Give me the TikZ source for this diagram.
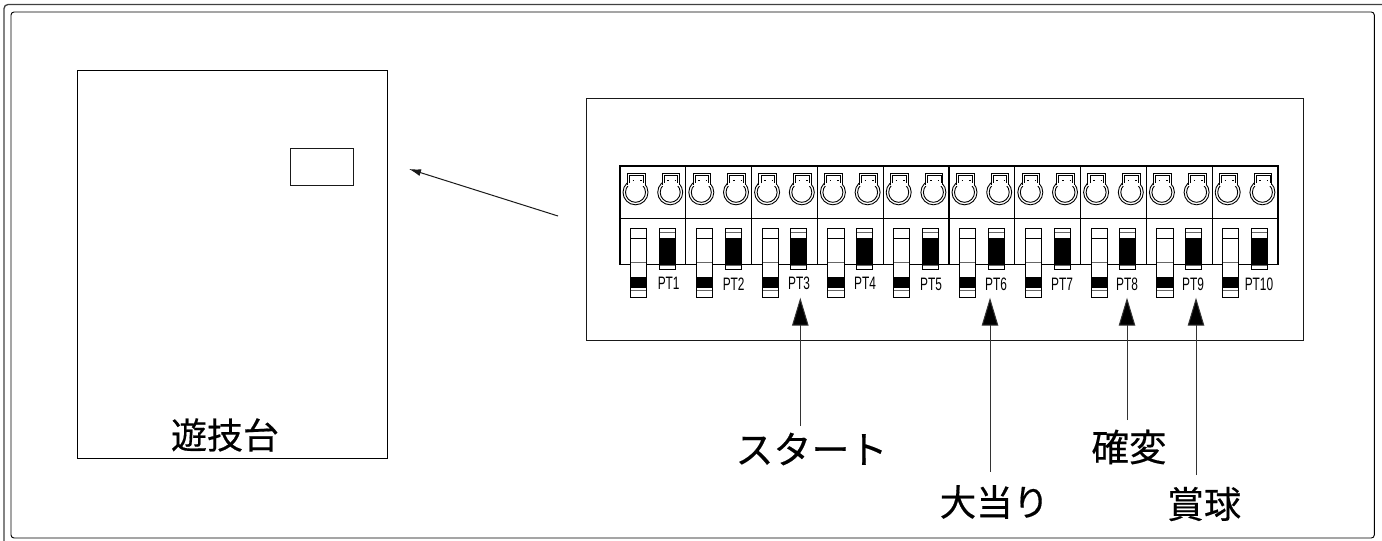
\documentclass[tikz,border=0pt]{standalone}
\usepackage{fontspec}
\usepackage{graphicx}
\setmainfont{Liberation Sans}
\newfontfamily\jpfont[BoldFont={Noto Sans CJK JP},BoldFeatures={FakeBold=0.4}]{Noto Sans CJK JP}
\usetikzlibrary{arrows.meta}
\tikzset{
  ln/.style={draw=black,line width=0.95pt},
  thick line/.style={draw=black,line width=1.1pt},
  grayln/.style={draw=black!60,line width=1.2pt},
  thinln/.style={draw=black!90,line width=1pt},
  blk/.style={fill=black,draw=none},
  bigarrow/.style={draw=black!80,line width=1pt,-{Triangle[length=28pt,width=16.5pt,fill=black]}},
  ptlabel/.style={inner sep=0pt,text=black},
  jplabel/.style={inner sep=0pt,font=\jpfont\bfseries},
}
\newcommand{\ptl}[1]{\scalebox{0.66}[1]{\fontsize{18}{18}\selectfont #1}}
\newcommand{\jps}[1]{\fontsize{#1}{#1}\selectfont}
\begin{document}
\begin{tikzpicture}[x=1pt,y=-1pt]
\useasboundingbox (0,0) rectangle (1382,541);
\begin{scope}
\clip (0,0) rectangle (1382,541);
\draw[draw=black!75,line width=1.3pt,rounded corners=4pt] (4,4.5) rectangle (1386,548);
\draw[ln,rounded corners=3pt] (11,12) rectangle (1374.3,538);
\end{scope}
% game machine
\draw[ln] (77.5,70.5) rectangle (387.5,458.5);
\draw[thinln] (290.5,148.5) rectangle (353.5,185.5);
\node[jplabel] (machine) at (225,435) {\jps{36}遊技台};
% panel
\draw[thinln] (586.5,98.5) rectangle (1303.5,340.5);
\coordinate (zoomstart) at (558,216);
\coordinate (zoomend) at (409,169);
\draw[thinln,-{Latex[length=12pt,width=7pt]}] (zoomstart) -- (zoomend);
% terminal block
\foreach \i in {0,...,9}{
  \begin{scope}[shift={({\i*65.8},0)}]
    \draw[thick line] (620,166) rectangle (685.8,264.5);
    \draw[thick line] (620,218.5) -- (685.8,218.5);
    \foreach \dx in {0,34.7}{
      \begin{scope}[shift={(\dx,0)}]
        \draw[line width=.9pt] (635.5,192.3) circle (12.5);
        \draw[line width=.9pt] (635.5,192.3) circle (10);
        \fill[white] (627.3,173) rectangle (645,185.5);
        \draw[line width=1pt] (627.3,185) -- (627.3,173.3) -- (645,173.3) -- (645,185);
        \draw[line width=.7pt] (629.3,183) -- (629.3,175.6) -- (643,175.6) -- (643,183);
        \draw[line width=.6pt] (632.5,180) -- (634,180) (640,180) -- (641.5,180);
      \end{scope}
    }
    % left switch
    \fill[white] (630.5,228.3) rectangle (646.7,297.3);
    \fill[blk] (630.5,277.3) rectangle (646.7,288.3);
    \draw[grayln] (630.5,262.8) -- (646.7,262.8);
    \draw[grayln] (630.5,290.3) -- (646.7,290.3);
    \draw[thick line] (630.5,238.3) -- (646.7,238.3);
    \draw[thick line] (630.5,228.3) rectangle (646.7,297.3);
    % right switch
    \fill[white] (659.3,228.3) rectangle (675.3,269.3);
    \fill[blk] (659.3,237.8) rectangle (675.3,264.5);
    \draw[grayln] (659.3,232.5) -- (675.3,232.5);
    \draw[grayln] (659.3,265.5) -- (675.3,265.5);
    \draw[ln] (659.3,228.3) rectangle (675.3,269.3);
  \end{scope}
}
% labels of the terminals
\node[ptlabel] (pt1) at (668.7,283) {\ptl{PT1}};
\node[ptlabel] (pt2) at (733.7,284) {\ptl{PT2}};
\node[ptlabel] (pt3) at (799,283) {\ptl{PT3}};
\node[ptlabel] (pt4) at (865,283) {\ptl{PT4}};
\node[ptlabel] (pt5) at (931,284) {\ptl{PT5}};
\node[ptlabel] (pt6) at (996,284) {\ptl{PT6}};
\node[ptlabel] (pt7) at (1062,284) {\ptl{PT7}};
\node[ptlabel] (pt8) at (1127,284) {\ptl{PT8}};
\node[ptlabel] (pt9) at (1193,284) {\ptl{PT9}};
\node[ptlabel] (pt10) at (1259,284) {\ptl{PT10}};
% signal labels
\node[jplabel] (start) at (811.5,449) {\jps{38}スタート};
\node[jplabel] (kakuhen) at (1129,447) {\jps{37.5}確変};
\node[jplabel] (oatari) at (994.5,502) {\jps{36.5}大当り};
\node[jplabel] (shokyu) at (1204,504) {\jps{37}賞球};
\coordinate (a3) at (800.3,297.7);
\coordinate (a6) at (990,297.7);
\coordinate (a8) at (1127,297.7);
\coordinate (a9) at (1196,297.7);
\coordinate (b3) at (800.3,426);
\coordinate (b6) at (990,471.5);
\coordinate (b8) at (1127,420);
\coordinate (b9) at (1196,475);
\draw[bigarrow] (b3) -- (a3);
\draw[bigarrow] (b6) -- (a6);
\draw[bigarrow] (b8) -- (a8);
\draw[bigarrow] (b9) -- (a9);
\end{tikzpicture}
\end{document}
